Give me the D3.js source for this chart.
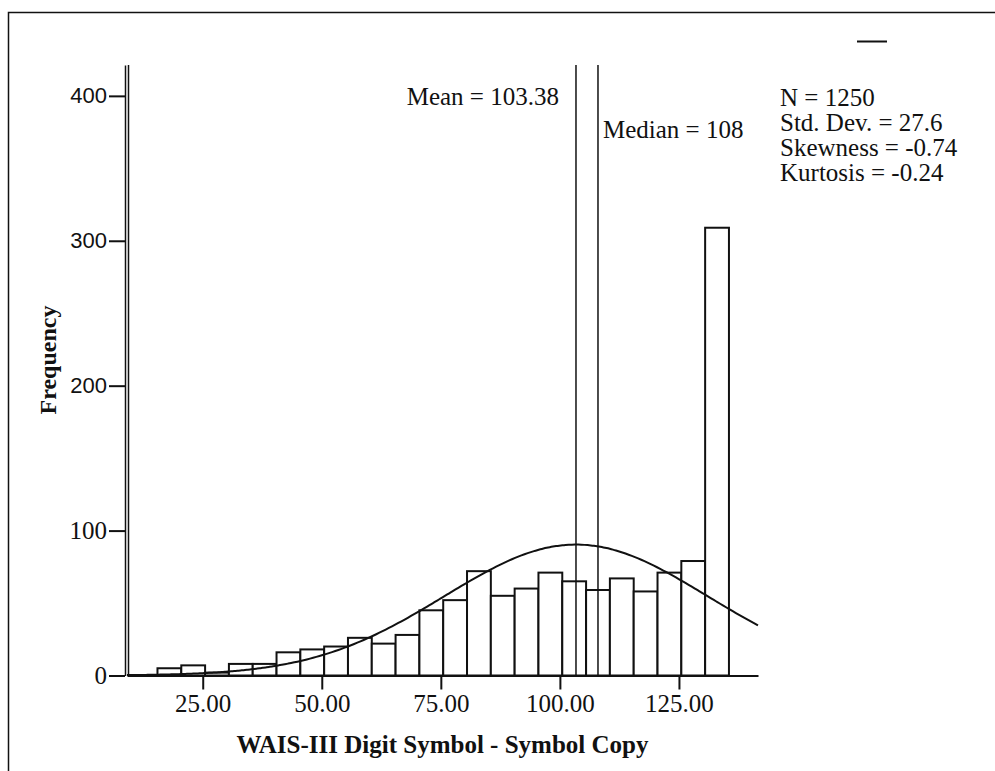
<!DOCTYPE html>
<html>
<head>
<meta charset="utf-8">
<script src="https://cdn.jsdelivr.net/npm/d3@7"></script>
<style>
  body { margin: 0; background: #fff; }
  svg { display: block; }
  text { fill: #111; }
</style>
</head>
<body>
<div id="chart"></div>
<script>
// histogram bins (lower edge, width 5) and counts
var binLower = [15.5, 20.5, 25.5, 30.5, 35.5, 40.5, 45.5, 50.5, 55.5, 60.5, 65.5, 70.5,
                75.5, 80.5, 85.5, 90.5, 95.5, 100.5, 105.5, 110.5, 115.5, 120.5, 125.5, 130.5];
var counts   = [5, 7, 2, 8, 8, 16, 18, 20, 26, 22, 28, 45,
                52, 72, 55, 60, 71, 65, 59, 67, 58, 71, 79, 309];
var binWidth = 5;

var xTicks = [25, 50, 75, 100, 125];
var yTicks = [0, 100, 200, 300, 400];
var sansTicks = [200, 300, 400];   // these labels are in a sans face in the original

var stats = { n: 1250, mean: 103.38, median: 108, sd: 27.6 };
var statLines = ["N = 1250", "Std. Dev. = 27.6", "Skewness = -0.74", "Kurtosis = -0.24"];

var w = 995,
    h = 771;

var svg = d3.select("#chart").append("svg")
    .attr("width", w)
    .attr("height", h);

// outer frame (runs off the right and bottom of the picture)
svg.append("rect")
    .attr("x", 8.5).attr("y", 12.5)
    .attr("width", 1000).attr("height", 800)
    .attr("fill", "none").attr("stroke", "#111").attr("stroke-width", 1.5);

var x = d3.scaleLinear().domain([9.1, 141.6]).range([127, 758]);
var y = d3.scaleLinear().domain([0, 421.3]).range([675.5, 65]);

var serif = "'Liberation Serif', 'Times New Roman', serif";

// bars
svg.selectAll("rect.bar")
    .data(counts)
    .enter()
    .append("rect")
    .attr("class", "bar")
    .attr("x", function (d, i) { return x(binLower[i]); })
    .attr("y", function (d) { return y(d); })
    .attr("width", function (d, i) { return x(binLower[i] + binWidth) - x(binLower[i]); })
    .attr("height", function (d) { return y(0) - y(d); })
    .attr("fill", "#fff")
    .attr("stroke", "#111")
    .attr("stroke-width", 2);

// normal curve
var curveXs = d3.range(0, 201).map(function (i) {
    return x.domain()[0] + (x.domain()[1] - x.domain()[0]) * i / 200;
});
var peak = stats.n * binWidth / (stats.sd * Math.sqrt(2 * Math.PI));
var line = d3.line()
    .x(function (d) { return x(d); })
    .y(function (d) {
        var z = (d - stats.mean) / stats.sd;
        return y(peak * Math.exp(-0.5 * z * z));
    })
    .curve(d3.curveBasis);
svg.append("path")
    .datum(curveXs)
    .attr("d", line)
    .attr("fill", "none")
    .attr("stroke", "#111")
    .attr("stroke-width", 2);

// mean / median reference lines
[stats.mean, stats.median].forEach(function (v) {
    svg.append("line")
        .attr("x1", x(v)).attr("x2", x(v))
        .attr("y1", y.range()[1]).attr("y2", y(0))
        .attr("stroke", "#111").attr("stroke-width", 1.5);
});

svg.append("text")
    .attr("x", x(stats.mean) - 17).attr("y", 105)
    .attr("text-anchor", "end")
    .style("font-family", serif).style("font-size", "25px")
    .text("Mean = " + stats.mean);

svg.append("text")
    .attr("x", x(stats.median) + 5).attr("y", 138)
    .style("font-family", serif).style("font-size", "25px")
    .text("Median = " + stats.median);

// stats box
svg.append("text")
    .attr("x", 780).attr("y", 106)
    .style("font-family", serif).style("font-size", "25px")
    .selectAll("tspan")
    .data(statLines)
    .enter()
    .append("tspan")
    .attr("x", 780)
    .attr("dy", function (d, i) { return i === 0 ? 0 : 25; })
    .text(function (d) { return d; });

// small legend dash at top right
svg.append("line")
    .attr("x1", 857).attr("x2", 887)
    .attr("y1", 41.5).attr("y2", 41.5)
    .attr("stroke", "#111").attr("stroke-width", 2);

// y axis
var yAxis = svg.append("g")
    .attr("transform", "translate(125,0)")
    .call(d3.axisLeft(y).tickValues(yTicks).tickSize(16).tickSizeOuter(0).tickPadding(2));
yAxis.select(".domain").attr("stroke", "#111").attr("stroke-width", 1.5);
yAxis.selectAll(".tick line").attr("stroke", "#111").attr("stroke-width", 2);
yAxis.selectAll(".tick text")
    .attr("fill", "#111")
    .style("font-family", function (d) {
        return sansTicks.indexOf(d) >= 0 ? "'Liberation Sans', Arial, sans-serif" : serif;
    })
    .style("font-size", function (d) { return sansTicks.indexOf(d) >= 0 ? "22px" : "25px"; });

svg.append("line")
    .attr("x1", 128.5).attr("x2", 128.5)
    .attr("y1", y.range()[1]).attr("y2", y(0))
    .attr("stroke", "#111").attr("stroke-width", 1.5);

// x axis
var xAxis = svg.append("g")
    .attr("transform", "translate(0," + y(0) + ")")
    .call(d3.axisBottom(x).tickValues(xTicks).tickFormat(d3.format(".2f"))
        .tickSize(14).tickSizeOuter(0).tickPadding(5));
xAxis.select(".domain").attr("stroke", "#111").attr("stroke-width", 2);
xAxis.selectAll(".tick line").attr("stroke", "#111").attr("stroke-width", 2);
xAxis.selectAll(".tick text")
    .attr("fill", "#111")
    .style("font-family", serif)
    .style("font-size", "25px");

// axis titles
svg.append("text")
    .attr("x", (x.range()[0] + x.range()[1]) / 2).attr("y", 753)
    .attr("text-anchor", "middle")
    .style("font-family", serif).style("font-size", "25px").style("font-weight", "bold")
    .text("WAIS-III Digit Symbol - Symbol Copy");

svg.append("text")
    .attr("transform", "translate(56,360) rotate(-90)")
    .attr("text-anchor", "middle")
    .style("font-family", serif).style("font-size", "24px").style("font-weight", "bold")
    .text("Frequency");
</script>
</body>
</html>
